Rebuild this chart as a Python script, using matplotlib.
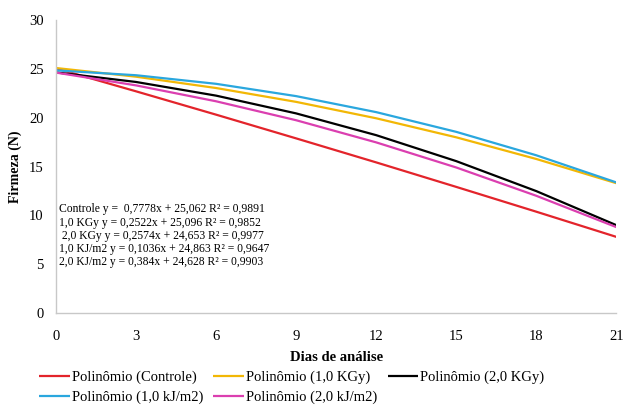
import matplotlib
matplotlib.use("Agg")
import matplotlib.pyplot as plt

plt.rcParams['font.family'] = ['Liberation Serif', 'DejaVu Serif']

dias = [0, 3, 6, 9, 12, 15, 18, 21]
controle = [25.06, 22.71, 20.32, 17.89, 15.43, 12.92, 10.38, 7.80]
kgy_1 = [25.10, 24.21, 23.05, 21.63, 19.95, 18.00, 15.78, 13.30]
kgy_2 = [24.65, 23.67, 22.27, 20.45, 18.22, 15.56, 12.49, 9.00]
kjm2_1 = [24.86, 24.36, 23.48, 22.22, 20.58, 18.56, 16.16, 13.38]
kjm2_2 = [24.63, 23.32, 21.69, 19.75, 17.48, 14.91, 12.01, 8.80]

series_labels = ["Polinômio (Controle)", "Polinômio (1,0 KGy)", "Polinômio (2,0 KGy)",
                 "Polinômio (1,0 kJ/m2)", "Polinômio (2,0 kJ/m2)"]
equations = [
    "Controle y =  0,7778x + 25,062 R² = 0,9891",
    "1,0 KGy y = 0,2522x + 25,096 R² = 0,9852",
    " 2,0 KGy y = 0,2574x + 24,653 R² = 0,9977",
    "1,0 KJ/m2 y = 0,1036x + 24,863 R² = 0,9647",
    "2,0 KJ/m2 y = 0,384x + 24,628 R² = 0,9903",
]
xticks = [0, 3, 6, 9, 12, 15, 18, 21]
yticks = [0, 5, 10, 15, 20, 25, 30]

colors = ['#E3242B', '#F2B705', '#000000', '#2AA7DE', '#DB3FB0']

fig = plt.figure(figsize=(6.26, 4.12), dpi=100)
ax = fig.add_axes([0.0895, 0.2403, 0.895, 0.7107])

data = [controle, kgy_1, kgy_2, kjm2_1, kjm2_2]
handles = []
for ys, c, lab in zip(data, colors, series_labels):
    h, = ax.plot(dias, ys, color=c, lw=1.6, label=lab, solid_capstyle='butt')
    handles.append(h)

ax.set_xlim(0, 21)
ax.set_ylim(0, 30)
ax.set_xticks(xticks)
ax.set_yticks(yticks)
ax.tick_params(axis='y', length=0, labelsize=10.5, pad=9)
ax.tick_params(axis='x', length=0, labelsize=10.5, pad=12)
for s in ['top', 'right']:
    ax.spines[s].set_visible(False)
for s in ['left', 'bottom']:
    ax.spines[s].set_color('#C8C8C8')
    ax.spines[s].set_linewidth(1.0)

ax.set_xlabel("Dias de análise", fontsize=10.5, fontweight='bold', labelpad=6)
ax.set_ylabel("Firmeza (N)", fontsize=10, fontweight='bold', labelpad=5)

ax.text(0.006, 0.374, "\n".join(equations), transform=ax.transAxes, fontsize=8.4,
        va='top', ha='left', linespacing=1.12)

order = [0, 3, 1, 4, 2]
fig.legend([handles[i] for i in order], [series_labels[i] for i in order],
           loc='center', bbox_to_anchor=(0.466, 0.06), ncol=3, frameon=False,
           fontsize=10.5, handlelength=2.1, handletextpad=0.15, columnspacing=0.7,
           labelspacing=0.45)

fig.savefig("out.png", dpi=100)
